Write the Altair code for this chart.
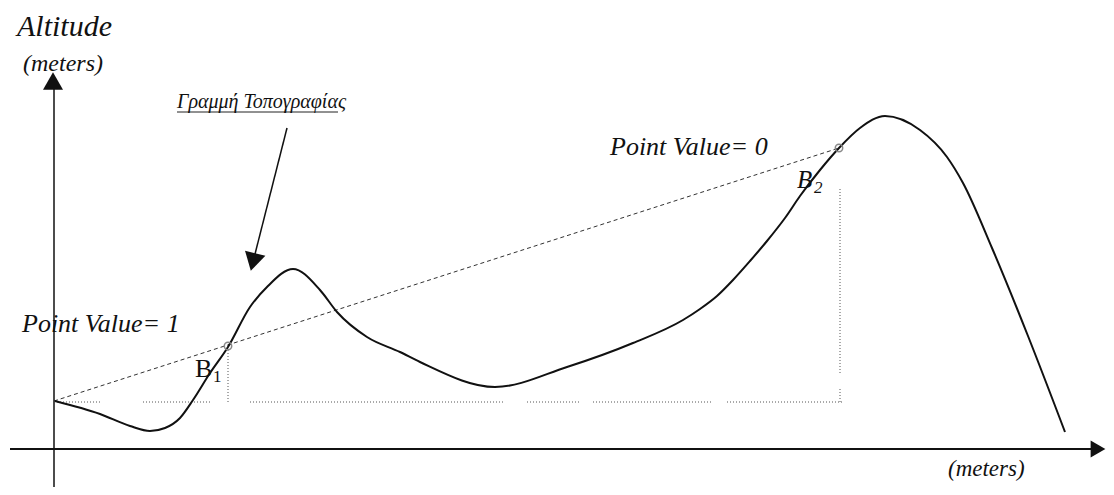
import altair as alt
import pandas as pd

# ---- data (distance / altitude, origin at axes crossing) ----
terrain_x = [1, 46, 76, 96, 111, 126, 139, 156, 174, 196, 213, 239, 266, 283, 313, 346, 366, 441,
             513, 579, 629, 646, 663, 679, 696, 713, 731, 746, 766, 785, 806, 831, 866, 893,
             909, 938, 974, 1011]
terrain_y = [47, 34, 22, 17, 20, 30, 48, 75, 101, 141, 161, 179, 158, 136, 111, 96, 86, 61,
             81, 105, 128, 139, 152, 168, 187, 207, 230, 252, 278, 300, 320, 332, 318, 291,
             265, 200, 112, 16]

sight_x = [0, 785]
sight_y = [47, 300]

b_names = ["B1", "B2"]
b_x = [174, 785]
b_y = [102, 300]

ref_level = 46
ref_seg_x = [3, 89, 196, 473, 539, 673]
ref_seg_x2 = [48, 156, 449, 526, 659, 789]
drop_x = [174, 786, 786]
drop_y = [46, 46, 75]
drop_y2 = [98, 61, 260]

italic_labels = ["Altitude", "(meters)", "Γραμμή Τοπογραφίας", "Point Value= 1",
                 "Point Value= 0", "B", "2", "(meters)"]
italic_x = [-37, -31, 123, -32, 556, 743, 760, 894]
italic_y = [412, 377, 340, 116, 293, 260, 255, -28]
italic_size = [30, 24, 20, 26, 26, 25, 17, 23]

upright_labels = ["B", "1"]
upright_x = [141, 159]
upright_y = [71, 66]
upright_size = [26, 17]

X_DOMAIN = [-46, 1052]
Y_DOMAIN = [-39, 440]

xs = alt.Scale(domain=X_DOMAIN, nice=False, zero=False)
ys = alt.Scale(domain=Y_DOMAIN, nice=False, zero=False)


def X(f="x"):
    return alt.X(f, type="quantitative", scale=xs, axis=None)


def Y(f="y"):
    return alt.Y(f, type="quantitative", scale=ys, axis=None)


SERIF = "Liberation Serif"

terrain = alt.Chart(pd.DataFrame({"x": terrain_x, "y": terrain_y})).mark_line(
    interpolate="monotone", color="#111", strokeWidth=2
).encode(x=X(), y=Y(), order="x:Q")

sight = alt.Chart(pd.DataFrame({"x": sight_x, "y": sight_y})).mark_line(
    color="#333", strokeWidth=1, strokeDash=[4, 3]
).encode(x=X(), y=Y())

ref_h = alt.Chart(pd.DataFrame({"x": ref_seg_x, "x2": ref_seg_x2,
                                "y": [ref_level] * len(ref_seg_x)})).mark_rule(
    color="#555", strokeWidth=1, strokeDash=[1, 2]
).encode(x=X(), x2="x2", y=Y())

ref_v = alt.Chart(pd.DataFrame({"x": drop_x, "y": drop_y, "y2": drop_y2})).mark_rule(
    color="#555", strokeWidth=1, strokeDash=[1, 2]
).encode(x=X(), y=Y(), y2="y2")

# axes
x_axis = alt.Chart(pd.DataFrame({"x": [-44], "x2": [1040], "y": [-1]})).mark_rule(
    color="#111", strokeWidth=2
).encode(x=X(), x2="x2", y=Y())

y_axis = alt.Chart(pd.DataFrame({"x": [0], "y": [-39], "y2": [362]})).mark_rule(
    color="#111", strokeWidth=1.5
).encode(x=X(), y=Y(), y2="y2")

y_head = alt.Chart(pd.DataFrame({"x": [-1], "y": [367]})).mark_point(
    shape="triangle-up", filled=True, color="#111", size=400, opacity=1
).encode(x=X(), y=Y())

x_head = alt.Chart(pd.DataFrame({"x": [1044], "y": [-1]})).mark_point(
    shape="triangle-right", filled=True, color="#111", size=290, opacity=1
).encode(x=X(), y=Y())

# pointer arrow from the title to the curve
pointer = alt.Chart(pd.DataFrame({"x": [233], "y": [320], "x2": [200], "y2": [190]})).mark_rule(
    color="#111", strokeWidth=1.5
).encode(x=X(), y=Y(), x2="x2", y2="y2")

pointer_head = alt.Chart(pd.DataFrame({"x": [199], "y": [186]})).mark_point(
    shape="triangle-down", filled=True, color="#111", size=440, angle=14, opacity=1
).encode(x=X(), y=Y())

underline = alt.Chart(pd.DataFrame({"x": [123], "x2": [284], "y": [336]})).mark_rule(
    color="#222", strokeWidth=1
).encode(x=X(), x2="x2", y=Y())

b_points = alt.Chart(pd.DataFrame({"name": b_names, "x": b_x, "y": b_y})).mark_point(
    shape="circle", filled=False, color="#888", size=55, strokeWidth=1.5, opacity=1
).encode(x=X(), y=Y())

italic_text = alt.Chart(pd.DataFrame({"t": italic_labels, "x": italic_x, "y": italic_y,
                                      "s": italic_size})).mark_text(
    font=SERIF, fontStyle="italic", align="left", baseline="alphabetic", color="#111"
).encode(x=X(), y=Y(), text="t:N", size=alt.Size("s:Q", scale=None))

upright_text = alt.Chart(pd.DataFrame({"t": upright_labels, "x": upright_x, "y": upright_y,
                                       "s": upright_size})).mark_text(
    font=SERIF, align="left", baseline="alphabetic", color="#111"
).encode(x=X(), y=Y(), text="t:N", size=alt.Size("s:Q", scale=None))

chart = alt.layer(
    ref_h, ref_v, sight, x_axis, y_axis, y_head, x_head, terrain, pointer, pointer_head,
    underline, b_points, italic_text, upright_text
).properties(
    width=1098, height=479, padding=0, autosize=alt.AutoSizeParams(type="none"),
    background="white"
).configure_view(stroke=None)

chart.save("out.html", embed_options={"renderer": "svg", "actions": False})
